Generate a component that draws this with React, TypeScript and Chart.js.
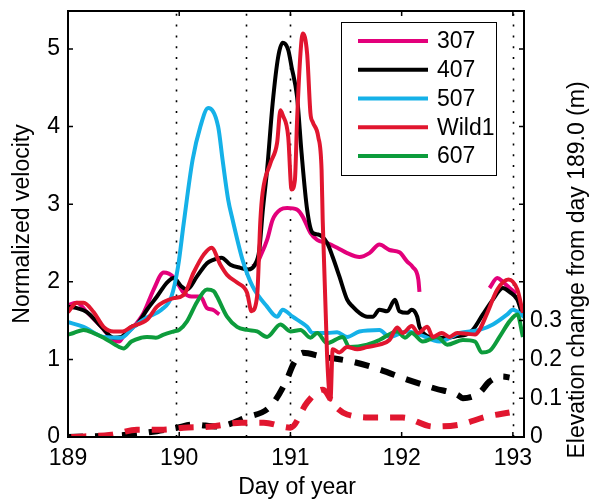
import React, { useEffect, useRef } from 'react';
import { Chart, registerables } from 'chart.js';

Chart.register(...registerables);

const FONT = '"Liberation Sans", Arial, Helvetica, sans-serif';

// ---- data ----
const days307 = [189.0, 189.08, 189.17, 189.3, 189.41, 189.46, 189.5, 189.59, 189.68, 189.77, 189.86, 189.95, 190.04, 190.11, 190.19, 190.25, 190.3, 190.36, 190.5, 190.66, 190.7, 190.73, 190.79, 190.84, 190.91, 190.97, 191.06, 191.11, 191.18, 191.24, 191.33, 191.42, 191.51, 191.62, 191.71, 191.8, 191.89, 191.98, 192.05, 192.1, 192.15, 192.16, 192.5, 192.79, 192.86, 192.91, 192.97, 193.03];
const vel307 = [1.70, 1.73, 1.61, 1.42, 1.25, 1.23, 1.30, 1.42, 1.60, 1.90, 2.12, 2.06, 1.86, 1.81, 1.81, 1.66, 1.64, 1.58, null, 2.2, 2.24, 2.33, 2.54, 2.80, 2.93, 2.95, 2.93, 2.84, 2.63, 2.54, 2.50, 2.44, 2.37, 2.32, 2.37, 2.48, 2.41, 2.38, 2.26, 2.19, 2.03, 1.87, null, 1.92, 2.05, 2.0, 1.92, 1.85];

const days407 = [189.0, 189.08, 189.17, 189.3, 189.41, 189.48, 189.57, 189.62, 189.71, 189.8, 189.89, 189.95, 190.02, 190.07, 190.16, 190.25, 190.3, 190.38, 190.46, 190.55, 190.62, 190.68, 190.72, 190.75, 190.79, 190.84, 190.89, 190.93, 190.98, 191.01, 191.06, 191.1, 191.15, 191.2, 191.25, 191.33, 191.38, 191.44, 191.51, 191.56, 191.62, 191.69, 191.74, 191.8, 191.87, 191.94, 191.98, 192.05, 192.09, 192.14, 192.16, 192.21, 192.3, 192.4, 192.5, 192.58, 192.64, 192.73, 192.82, 192.91, 192.97, 193.04, 193.09];
const vel407 = [1.68, 1.66, 1.61, 1.42, 1.28, 1.29, 1.42, 1.45, 1.64, 1.81, 1.99, 2.05, 1.94, 1.90, 2.07, 2.24, 2.28, 2.31, 2.22, 2.18, 2.16, 2.22, 2.41, 2.9, 3.44, 4.30, 4.90, 5.08, 4.99, 4.77, 4.38, 3.66, 2.93, 2.63, 2.61, 2.50, 2.32, 2.07, 1.77, 1.68, 1.60, 1.55, 1.55, 1.64, 1.62, 1.77, 1.62, 1.60, 1.64, 1.55, 1.42, 1.32, 1.28, 1.28, 1.30, 1.32, 1.38, 1.58, 1.77, 1.92, 1.87, 1.77, 1.55];

const days507 = [189.0, 189.14, 189.32, 189.48, 189.59, 189.71, 189.84, 189.93, 189.99, 190.04, 190.12, 190.19, 190.26, 190.35, 190.39, 190.44, 190.48, 190.57, 190.66, 190.79, 190.88, 190.93, 191.02, 191.15, 191.2, 191.33, 191.42, 191.51, 191.62, 191.8, 191.89, 192.05, 192.16, 192.34, 192.52, 192.7, 192.82, 192.95, 193.0, 193.1];
const vel507 = [1.48, 1.42, 1.29, 1.28, 1.42, 1.54, 1.64, 1.81, 2.2, 2.75, 3.57, 4.0, 4.24, 4.0, 3.57, 3.06, 2.8, 2.28, 1.94, 1.68, 1.55, 1.64, 1.55, 1.42, 1.34, 1.34, 1.35, 1.29, 1.36, 1.38, 1.29, 1.36, 1.32, 1.23, 1.34, 1.38, 1.45, 1.58, 1.64, 1.55];

const daysWild1 = [189.0, 189.08, 189.14, 189.23, 189.32, 189.41, 189.49, 189.57, 189.66, 189.71, 189.8, 189.86, 189.95, 190.04, 190.13, 190.22, 190.29, 190.37, 190.43, 190.52, 190.61, 190.65, 190.7, 190.73, 190.75, 190.82, 190.88, 190.91, 190.93, 190.98, 191.01, 191.04, 191.06, 191.09, 191.11, 191.15, 191.18, 191.2, 191.25, 191.28, 191.29, 191.33, 191.36, 191.38, 191.44, 191.51, 191.6, 191.69, 191.8, 191.89, 191.96, 192.01, 192.09, 192.15, 192.23, 192.28, 192.36, 192.43, 192.5, 192.59, 192.66, 192.7, 192.77, 192.86, 192.96, 193.04, 193.09];
const velWild1 = [1.61, 1.73, 1.73, 1.61, 1.42, 1.36, 1.36, 1.42, 1.47, 1.51, 1.68, 1.74, 1.79, 1.83, 2.12, 2.35, 2.44, 2.22, 2.09, 1.99, 1.86, 1.62, 1.81, 2.80, 3.15, 3.53, 3.79, 4.21, 4.15, 3.87, 3.19, 3.31, 4.09, 4.94, 5.20, 4.94, 4.17, 4.06, 3.87, 3.44, 2.80, 1.03, 0.48, 1.13, 1.09, 1.16, 1.13, 1.16, 1.19, 1.25, 1.41, 1.34, 1.43, 1.34, 1.42, 1.29, 1.34, 1.29, 1.34, 1.33, 1.32, 1.38, 1.60, 1.90, 2.03, 1.90, 1.60];

const days607 = [189.0, 189.05, 189.14, 189.23, 189.32, 189.46, 189.5, 189.57, 189.66, 189.71, 189.79, 189.86, 189.95, 190.0, 190.07, 190.16, 190.25, 190.31, 190.34, 190.43, 190.52, 190.61, 190.7, 190.79, 190.91, 191.0, 191.09, 191.18, 191.24, 191.33, 191.47, 191.53, 191.69, 191.8, 191.96, 192.03, 192.09, 192.19, 192.32, 192.41, 192.55, 192.66, 192.72, 192.79, 192.88, 192.97, 193.04, 193.09];
const vel607 = [1.32, 1.34, 1.38, 1.34, 1.28, 1.16, 1.14, 1.23, 1.28, 1.29, 1.28, 1.32, 1.36, 1.38, 1.49, 1.74, 1.90, 1.88, 1.81, 1.55, 1.42, 1.38, 1.36, 1.29, 1.45, 1.36, 1.38, 1.28, 1.34, 1.21, 1.29, 1.16, 1.19, 1.25, 1.36, 1.28, 1.34, 1.23, 1.29, 1.19, 1.25, 1.23, 1.09, 1.11, 1.29, 1.49, 1.58, 1.29];

// elevation change (m), right axis
const elevDays407 = [189.0, 189.5, 189.8, 189.98, 190.13, 190.34, 190.6, 190.82, 190.96, 191.03, 191.11, 191.29, 191.56, 191.8, 192.05, 192.3, 192.5, 192.55, 192.7, 192.79, 192.91, 192.97];
const elev407 = [0.0, 0.005, 0.015, 0.024, 0.032, 0.027, 0.05, 0.079, 0.143, 0.19, 0.217, 0.207, 0.194, 0.174, 0.148, 0.125, 0.109, 0.10, 0.114, 0.143, 0.156, 0.153];
const elevDaysWild1 = [189.03, 189.39, 189.62, 189.86, 190.04, 190.29, 190.56, 190.76, 191.0, 191.15, 191.29, 191.4, 191.51, 191.78, 192.01, 192.28, 192.52, 192.77, 192.97];
const elevWild1 = [0.0, 0.006, 0.019, 0.019, 0.024, 0.027, 0.037, 0.037, 0.024, 0.089, 0.122, 0.08, 0.058, 0.05, 0.05, 0.027, 0.032, 0.053, 0.063];

const xTicks = [189, 190, 191, 192, 193];
const yTicks = [0, 1, 2, 3, 4, 5];
const y2Ticks = [0, 0.1, 0.2, 0.3];
const dottedDays = [189.97, 190.6, 191.0, 193.0];
const legendLabels = ['307', '407', '507', 'Wild1', '607'];
const colors = ['#e3007b', '#000000', '#15b1e8', '#e1162f', '#0d9c3c'];

const zip = (xs: number[], ys: (number | null)[]) => xs.map((x, i) => ({ x, y: ys[i] }));

const noPad = (s: any) => {
  s.paddingTop = 0;
  s.paddingBottom = 0;
  s.paddingLeft = 0;
  s.paddingRight = 0;
};

const overlay = {
  id: 'overlay',
  beforeDatasetsDraw(chart: any) {
    const { ctx, chartArea } = chart;
    const sx = chart.scales.x;
    ctx.save();
    ctx.strokeStyle = '#000';
    ctx.lineWidth = 1.6;
    ctx.setLineDash([2, 8.8]);
    dottedDays.forEach((d) => {
      const px = Math.round(sx.getPixelForValue(d)) + 0.5;
      ctx.beginPath();
      ctx.moveTo(px, chartArea.bottom);
      ctx.lineTo(px, chartArea.top);
      ctx.stroke();
    });
    ctx.restore();
  },
  afterDatasetsDraw(chart: any) {
    const { ctx, chartArea } = chart;
    const { left, right, top, bottom } = chartArea;
    const sx = chart.scales.x;
    const sy = chart.scales.y;
    const sy2 = chart.scales.y2;
    ctx.save();
    ctx.strokeStyle = '#000';
    ctx.lineWidth = 2;
    ctx.strokeRect(left, top, right - left, bottom - top);
    const tl = 5;
    ctx.lineWidth = 1.5;
    ctx.beginPath();
    xTicks.forEach((v) => {
      const px = sx.getPixelForValue(v);
      ctx.moveTo(px, bottom); ctx.lineTo(px, bottom - tl);
      ctx.moveTo(px, top); ctx.lineTo(px, top + tl);
    });
    yTicks.forEach((v) => {
      const py = sy.getPixelForValue(v);
      ctx.moveTo(left, py); ctx.lineTo(left + tl, py);
      ctx.moveTo(right, py); ctx.lineTo(right - tl, py);
    });
    y2Ticks.forEach((v) => {
      const py = sy2.getPixelForValue(v);
      ctx.moveTo(right, py); ctx.lineTo(right - tl, py);
    });
    ctx.stroke();

    // legend
    const bx = right - 183;
    const by = top + 11;
    const bw = 155;
    const bh = 153;
    ctx.fillStyle = '#fff';
    ctx.fillRect(bx, by, bw, bh);
    ctx.lineWidth = 1;
    ctx.strokeRect(bx + 0.5, by + 0.5, bw, bh);
    ctx.font = `23px ${FONT}`;
    ctx.textBaseline = 'middle';
    ctx.textAlign = 'left';
    legendLabels.forEach((lab, i) => {
      const ry = by + 19 + i * 28.75;
      ctx.strokeStyle = colors[i];
      ctx.lineWidth = 4;
      ctx.beginPath();
      ctx.moveTo(bx + 17, ry);
      ctx.lineTo(bx + 87, ry);
      ctx.stroke();
      ctx.fillStyle = '#000';
      ctx.fillText(lab, bx + 96, ry + 1);
    });

    // x axis title
    ctx.textAlign = 'center';
    ctx.textBaseline = 'alphabetic';
    ctx.fillText('Day of year', (left + right) / 2 + 1, 494);

    // right axis title (reads bottom to top)
    ctx.translate(right + 54, 270);
    ctx.rotate(-Math.PI / 2);
    ctx.textAlign = 'center';
    ctx.textBaseline = 'middle';
    ctx.fillStyle = '#000';
    ctx.fillText('Elevation change from day 189.0 (m)', 0, 0);
    ctx.restore();
  },
};

export default function App() {
  const ref = useRef<HTMLCanvasElement | null>(null);
  useEffect(() => {
    if (!ref.current) return;
    const solid = (label: string, xs: number[], ys: (number | null)[], color: string, order: number) => ({
      label,
      data: zip(xs, ys),
      borderColor: color,
      backgroundColor: color,
      borderWidth: 4,
      pointRadius: 0,
      fill: false,
      spanGaps: false,
      cubicInterpolationMode: 'monotone' as const,
      yAxisID: 'y',
      order,
    });
    const dashed = (label: string, xs: number[], ys: number[], color: string, order: number) => ({
      label,
      data: zip(xs, ys),
      borderColor: color,
      backgroundColor: color,
      borderWidth: 6,
      borderDash: [15, 12],
      pointRadius: 0,
      fill: false,
      cubicInterpolationMode: 'monotone' as const,
      yAxisID: 'y2',
      order,
    });
    const chart = new Chart(ref.current, {
      type: 'line',
      data: {
        datasets: [
          solid('307', days307, vel307, colors[0], 5),
          solid('407', days407, vel407, colors[1], 4),
          solid('507', days507, vel507, colors[2], 3),
          solid('Wild1', daysWild1, velWild1, colors[3], 1),
          solid('607', days607, vel607, colors[4], 2),
          dashed('407 elevation', elevDays407, elev407, colors[1], 7),
          dashed('Wild1 elevation', elevDaysWild1, elevWild1, colors[3], 6),
        ],
      },
      options: {
        animation: false,
        responsive: false,
        layout: { padding: { top: 11, left: 0, right: 0, bottom: 0 } },
        plugins: { legend: { display: false }, tooltip: { enabled: false } },
        scales: {
          x: {
            type: 'linear',
            min: 189,
            max: 193.1,
            grid: { display: false, drawTicks: false },
            border: { display: false },
            afterBuildTicks: (s: any) => { s.ticks = xTicks.map((v) => ({ value: v })); },
            afterFit: (s: any) => { s.height = 62; noPad(s); },
            ticks: { color: '#000', font: { family: FONT, size: 23 }, padding: 8, maxRotation: 0, autoSkip: false },
            title: { display: false },
          },
          y: {
            type: 'linear',
            position: 'left',
            min: 0,
            max: 5.49,
            grid: { display: false, drawTicks: false },
            border: { display: false },
            afterBuildTicks: (s: any) => { s.ticks = yTicks.map((v) => ({ value: v })); },
            afterFit: (s: any) => { s.width = 68; noPad(s); },
            ticks: { color: '#000', font: { family: FONT, size: 23 }, padding: 8 },
            title: { display: true, text: 'Normalized velocity', color: '#000', font: { family: FONT, size: 23 }, padding: 9 },
          },
          y2: {
            type: 'linear',
            position: 'right',
            min: 0,
            max: 1.098,
            grid: { display: false, drawTicks: false },
            border: { display: false },
            afterBuildTicks: (s: any) => { s.ticks = y2Ticks.map((v) => ({ value: v })); },
            afterFit: (s: any) => { s.width = 69; noPad(s); },
            ticks: { color: '#000', font: { family: FONT, size: 23 }, padding: 6, callback: (v: any) => String(v) },
          },
        },
      },
      plugins: [overlay],
    } as any);
    return () => chart.destroy();
  }, []);
  return (
    <div style={{ position: 'fixed', left: 0, top: 0, width: 593, height: 499, background: '#fff' }}>
      <canvas ref={ref} width={593} height={499} style={{ display: 'block' }} />
    </div>
  );
}
